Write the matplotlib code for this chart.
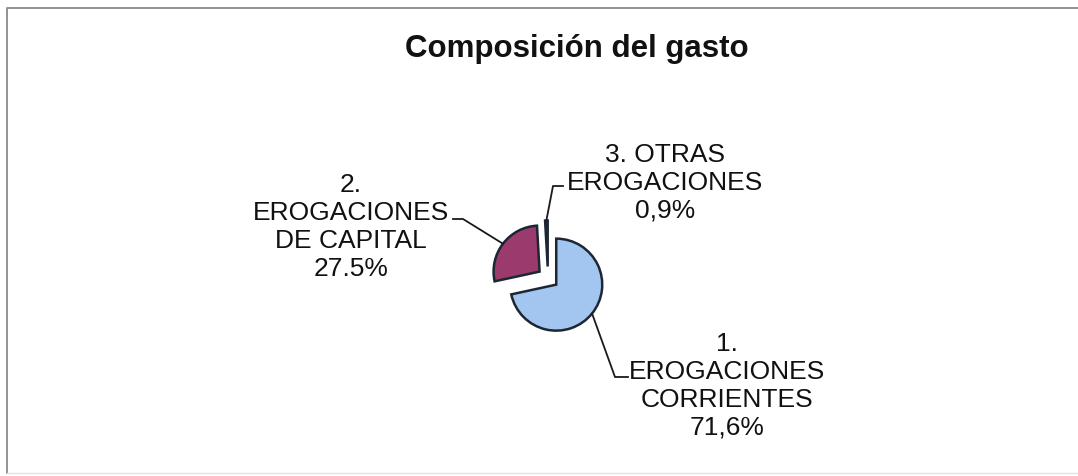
import numpy as np
import matplotlib.pyplot as plt

# data
labels = ["1.\nEROGACIONES\nCORRIENTES\n71,6%",
          "2.\nEROGACIONES\nDE CAPITAL\n27.5%",
          "3. OTRAS\nEROGACIONES\n0,9%"]
shares = [71.6, 27.5, 0.9]
colors = ["#a3c6f0", "#9b3a6c", "#2c3530"]

W, H = 1078, 477
fig = plt.figure(figsize=(W / 100, H / 100), dpi=100)
ax = fig.add_axes([0, 0, 1, 1])

def py(y):
    # pixel row -> data y
    return H - y

R = 46
cx, cy = 548, py(279)
expl = [0.23 * R, 0.23 * R, 0.25 * R]

wedges, _ = ax.pie(shares, colors=colors, startangle=90, counterclock=False,
                   radius=R, center=(cx, cy), explode=expl, frame=True,
                   wedgeprops=dict(edgecolor="#1c2733", linewidth=1.8))
ax.set_xlim(0, W)
ax.set_ylim(0, H)
ax.set_aspect("equal")
ax.axis("off")

# label text positions (pixel centre of block) and leader hooks
txt_pos = [(727, 386), (351, 227), (665, 183)]
hooks = [((615, 378), (628, 378)),
         ((463, 220), (453, 220)),
         ((553, 187), (563, 187))]

for i, w in enumerate(wedges):
    th = np.deg2rad((w.theta1 + w.theta2) / 2)
    wx, wy = w.center
    ex, ey = wx + R * np.cos(th), wy + R * np.sin(th)
    (hx1, hy1), (hx2, hy2) = hooks[i]
    ax.plot([ex, hx1, hx2], [ey, py(hy1), py(hy2)], color="#1a1a1a", lw=1.3)
    tx, ty = txt_pos[i]
    ax.text(tx, py(ty), labels[i], ha="center", va="center", fontsize=19,
            family="Liberation Sans", linespacing=1.2, color="#111111")

ax.text(577, py(49), "Composición del gasto", ha="center", va="center",
        fontsize=22.5, fontweight="bold", family="Liberation Sans", color="#111111")

# chart frame (right edge falls off the scan)
ax.plot([W + 5, 7, 7], [py(9), py(9), py(474)], color="#8a8a8a", lw=1.3, clip_on=False)
ax.plot([7, W], [py(474), py(474)], color="#e2e2e2", lw=1.0, clip_on=False)

fig.savefig("out.png", dpi=100)
